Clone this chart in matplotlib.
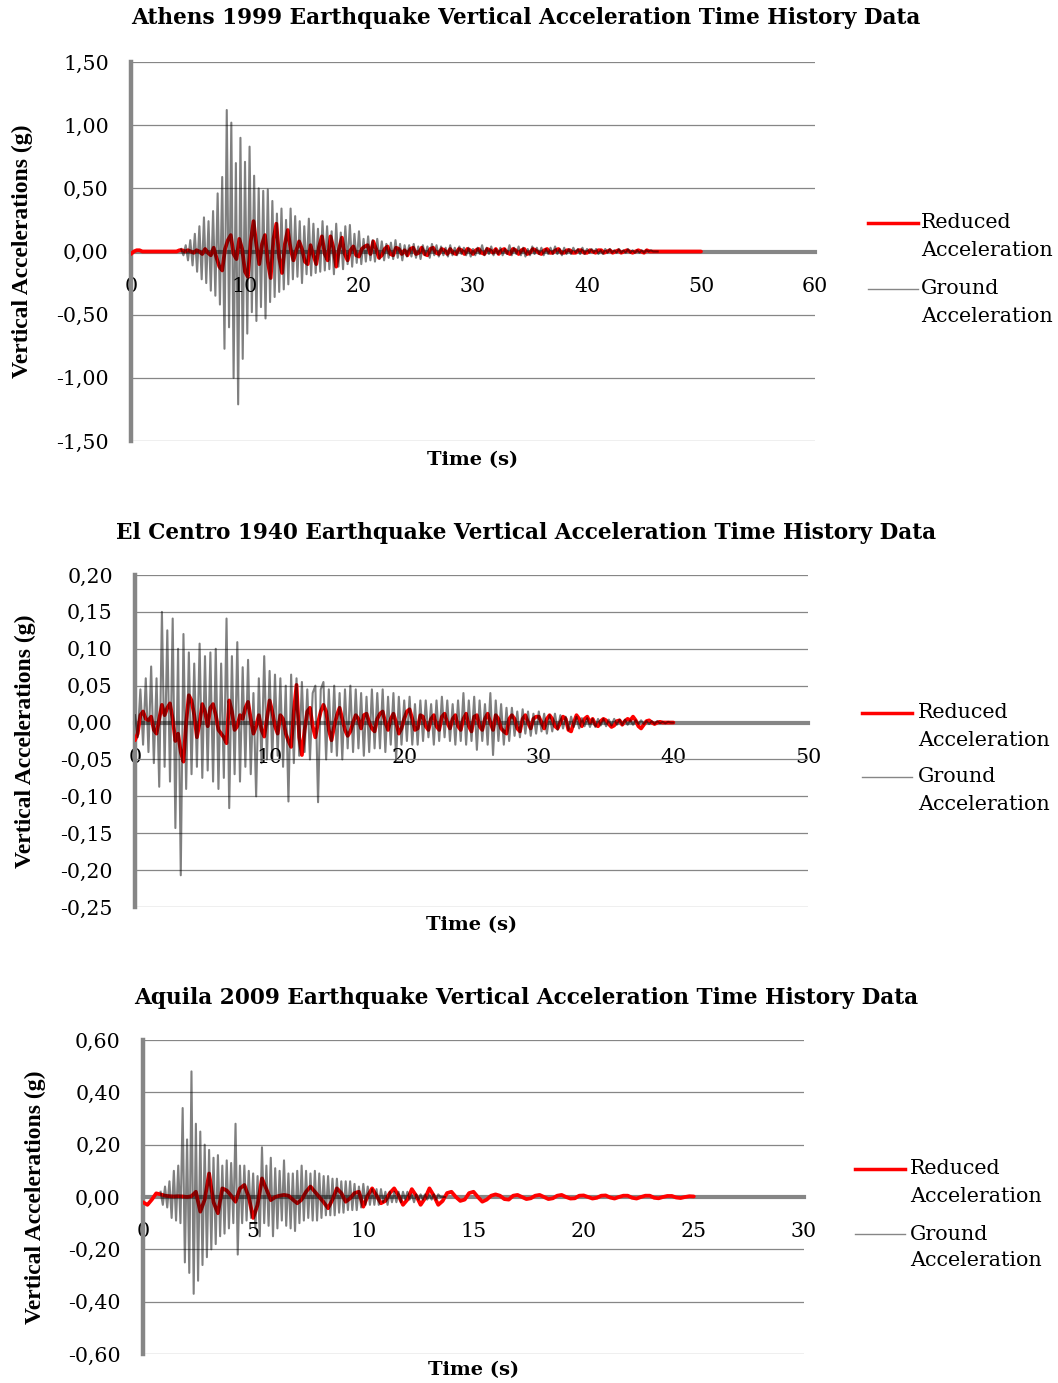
import numpy as np
import matplotlib.pyplot as plt
from matplotlib.lines import Line2D
from matplotlib.ticker import MultipleLocator, FuncFormatter

# --- values ---
# ground acceleration, hundredths / thousandths of g, sampled every dt from t0
athens_t0, athens_dt = 4.4, 0.2
athens_ground_cg = [
    2, -3, 5, -7, 9, -11, 14, -16, 20, -22,
    27, -25, 24, -31, 32, -35, 46, -42, 59, -77,
    112, -60, 102, -100, 70, -121, 90, -85, 71, -65,
    83, -48, 60, -55, 50, -44, 48, -53, 49, -40,
    40, -36, 30, -32, 34, -30, 25, -26, 34, -22,
    28, -20, 24, -25, 20, -18, 26, -19, 22, -17,
    18, -16, 24, -15, 20, -14, 16, -18, 22, -12,
    15, -14, 20, -10, 21, -12, 14, -9, 16, -10,
    10, -8, 12, -7, 9, -8, 10, -6, 8, -7,
    6, -5, 7, -6, 9, -5, 6, -7, 5, -4,
    5, -4, 6, -5, 4, -6, 5, -3, 4, -5,
    6, -3, 5, -4, 4, -3, 3, -4, 5, -3,
    3, -3, 4, -2, 3, -3, 3, -4, 2, -3,
    3, -2, 5, -3, 3, -2, 4, -3, 2, -2,
    3, -3, 2, -2, 5, -3, 3, -2, 4, -3,
    3, -4, 2, -3, 4, -2, 3, -2, 3, -3,
    2, -2, 3, -2, 4, -2, 2, -3, 3, -2,
    2, -2, 3, -1, 2, -2, 3, -2, 2, -1,
    2, -1, 2, -2, 1, -2, 2, -1, 2, -1,
    1, -1, 2, -1, 1, -1, 2, -1, 1, -1,
    1, -1, 1, -1, 1, 0, 1, 0, 0, 0]
athens_red_dt = 0.25
athens_reduced_cg = [
    -2, 0, 1, 1, 0, 0, 0, 0,
    0, 0, 0, 0, 0, 0, 0, 0,
    0, 1, 1, 0, 1, 0, -1, 1,
    0, -2, 2, -1, -3, 3, -5, -12,
    -15, 2, 9, 13, -2, -6, 10, 2,
    -16, -20, 8, 24, 5, -10, 6, 13,
    -8, -21, 10, 22, -5, -17, 6, 17,
    2, -7, 1, 8, 2, -8, -10, 5,
    -3, -10, 4, 12, -2, -7, 12, 3,
    -12, 2, 11, -2, -7, 1, 4, -3,
    -4, 2, 4, 5, -2, 8, 2, -5,
    -3, 2, 4, -2, -3, 3, 2, -2,
    1, -3, 2, 3, -2, -1, 3, -2,
    -3, 2, 3, -1, -2, 2, 1, -2,
    2, -1, -2, 2, 1, -2, 2, 1,
    -2, 1, 2, -1, -2, 2, 1, -1,
    2, -2, 1, 2, -1, -2, 2, 1,
    -2, 1, 2, -2, -1, 2, 1, -1,
    -2, 1, 2, -1, -1, 1, 2, -1,
    -1, 1, 1, -1, -1, 1, 1, -1,
    -1, 1, 0, -1, 1, 1, -1, 0,
    1, -1, 0, 1, -1, 0, 1, 0,
    -1, 0, 1, 0, -1, 1, 0, 0,
    0, 0, 0, 0, 0, 0, 0, 0,
    0, 0, 0, 0, 0, 0, 0, 0,
    0]

elcentro_t0, elcentro_dt = 0.0, 0.2
elcentro_ground_mg = [
    10, -20, 45, -30, 60, -40, 76, -55, 60, -87,
    150, -60, 125, -80, 141, -143, 100, -207, 120, -90,
    95, -70, 80, -60, 107, -75, 90, -65, 95, -80,
    100, -90, 80, -75, 141, -116, 90, -70, 109, -80,
    75, -60, 85, -70, 40, -100, 60, -55, 90, -50,
    70, -50, 65, -45, 60, -60, 50, -107, 65, -55,
    60, -45, 55, -40, 45, -50, 40, 50, -108, 45,
    55, -50, 45, -40, 50, -45, 40, -50, 45, -35,
    50, -40, 45, -35, 40, -45, 35, -40, 45, -35,
    40, -35, 45, -40, 35, -30, 40, -50, 35, -30,
    30, -25, 35, -30, 25, -30, 30, -25, 30, -20,
    25, -30, 30, -25, 35, -20, 30, -25, 25, -30,
    30, -25, 40, -30, 30, -25, 35, -37, 30, -25,
    25, -30, 40, -44, 30, -25, 25, -30, 20, -25,
    20, -18, 15, -20, 18, -15, 15, -18, 12, -15,
    15, -12, 12, -15, 10, -12, 12, -10, 10, -8,
    8, -10, 8, -6, 8, -8, 6, -5, 6, -6,
    5, -6, 5, -4, 5, -5, 4, -4, 5, -3,
    4, -3, 4, -3, 3, -3, 3, -2, 3, -2,
    2, -2, 2, -2, 2, -1, 1, -1, 1, 0,
    0]
elcentro_red_dt = 0.2
elcentro_reduced_mg = [
    -24, -15, 10, 15, 5, 3, 8, -10, -15, 5,
    24, 10, 20, 26, 5, -25, -15, -40, -53, 0,
    37, 30, 10, -20, 0, 25, 15, -5, 20, 25,
    10, -10, -15, -20, -28, 30, 15, -10, -5, 10,
    5, 20, 28, 5, -15, -5, 10, -10, -19, 5,
    30, 15, -5, -15, 10, 5, -15, -25, -33, 15,
    51, -20, -44, -10, 15, 20, -5, -20, 0, 15,
    24, 15, -10, -24, -5, 10, 20, 5, -10, -18,
    -12, 0, 10, 5, -8, 10, 12, 0, -8, -12,
    5, 12, 15, 0, -10, 5, 12, 0, -15, -8,
    5, 15, 18, 5, -10, -8, 10, 8, -5, -10,
    5, 10, -5, -10, 8, 12, 0, -8, 5, 10,
    -5, -10, 5, 12, -5, -12, 8, 10, -5, -10,
    5, 12, 0, -10, 10, 5, -8, -12, -15, 5,
    10, 5, -8, -12, 5, 10, 0, -8, 5, 8,
    8, 0, -8, 5, 10, 5, -5, -8, 0, 8,
    5, -10, -12, 0, 10, 5, -5, 5, 8, 0,
    5, -3, -5, 2, 5, 3, -2, -6, -4, 2,
    3, -3, 2, 5, 3, 8, 3, -5, -8, -3,
    2, 3, 0, -2, 0, 1, 0, 0, 0, 0,
    0]

aquila_t0, aquila_dt = 0.8, 0.1
aquila_ground_cg = [
    2, -3, 4, -4, 6, -8, 10, -9, 12, -10,
    34, -25, 22, -29, 48, -37, 28, -32, 25, -26,
    20, -23, 18, -20, 15, -18, 16, -15, 12, -14,
    14, -12, 13, -10, 28, -22, 12, -10, 12, -9,
    10, -8, 9, -12, 8, -15, 19, -10, 12, -11,
    15, -15, 11, -12, 10, -9, 14, -11, 9, -12,
    9, -13, 10, -10, 12, -9, 10, -8, 9, -9,
    10, -9, 9, -8, 8, -7, 8, -7, 7, -7,
    7, -6, 6, -6, 6, -5, 6, -5, 5, -5,
    4, -4, 5, -3, 4, -3, 3, -3, 3, -3,
    3, -2, 2, -3, 2, -2, 2, -2, 2, -2,
    2, -1, 2, -1, 1, -2, 1, -1, 1, -1,
    1, -1, 1, -1, 1, -1, 1, 0, 0, 0]
aquila_red_dt = 0.2
aquila_reduced_mg = [
    -20, -30, -10, 14, 10, 5, 3, 2, 3, 2,
    0, 3, 20, -56, -10, 90, -20, -62, 33, 25,
    5, -18, 33, 46, 0, -80, -30, 71, 30, -12,
    0, 5, 8, 5, -10, -24, -10, 20, 40, 20,
    0, -20, -43, -10, 33, 15, -18, -5, 15, 20,
    -37, 5, 33, 5, -24, -15, 15, 33, 5, -30,
    -10, 30, 5, -30, -5, 33, 5, -30, -15, 15,
    20, 0, -15, -10, 15, 20, 0, -18, -10, 5,
    10, 5, -8, -10, 5, 8, 0, -8, -5, 5,
    8, 0, -8, -5, 5, 8, 0, -6, -5, 5,
    6, 0, -6, -3, 5, 6, -2, -6, 0, 5,
    5, -3, -6, 0, 5, 5, -3, -5, 0, 4,
    4, -2, -4, 0, 3, 2]

titles = ["Athens 1999 Earthquake Vertical Acceleration Time History Data",
          "El Centro 1940 Earthquake Vertical Acceleration Time History Data",
          "Aquila 2009 Earthquake Vertical Acceleration Time History Data"]

GRAY = '#868686'
W, H = 1058, 1383

plt.rcParams['font.family'] = 'DejaVu Serif'
fig = plt.figure(figsize=(W / 100, H / 100), dpi=100)


def comma(v, pos):
    return f"{v:.2f}".replace('.', ',')


def panel(box, ground, g_t0, g_dt, reduced, r_dt, xmax, xstep, ylim, ystep,
          title, title_y, xlab_y, ylab_x, leg):
    l, t, r, b = box
    ax = fig.add_axes([l / W, 1 - b / H, (r - l) / W, (b - t) / H])
    tg = g_t0 + g_dt * np.arange(len(ground))
    tr = r_dt * np.arange(len(reduced))
    ax.plot(tr, reduced, color='red', lw=2.7, zorder=3, solid_capstyle='round')
    ax.plot(tg, ground, color='black', alpha=0.5, lw=1.5, zorder=4)
    ax.set_xlim(0, xmax)
    ax.set_ylim(*ylim)
    ax.xaxis.set_major_locator(MultipleLocator(xstep))
    ax.yaxis.set_major_locator(MultipleLocator(ystep))
    ax.yaxis.set_major_formatter(FuncFormatter(comma))
    for s in ('top', 'right'):
        ax.spines[s].set_visible(False)
    ax.spines['bottom'].set_position(('data', 0))
    ax.spines['bottom'].set_linewidth(3)
    ax.spines['bottom'].set_color(GRAY)
    ax.spines['bottom'].set_zorder(2)
    ax.spines['left'].set_linewidth(3.2)
    ax.spines['left'].set_color(GRAY)
    ax.grid(axis='y', color=GRAY, lw=0.9)
    ax.set_axisbelow(True)
    ax.tick_params(length=0, labelsize=14.8)
    ax.tick_params(axis='x', pad=18)
    ax.tick_params(axis='y', pad=16)
    ax.set_ylabel("Vertical Accelerations (g)", family='Liberation Serif',
                  fontweight='bold', fontsize=17, va='center')
    ax.yaxis.set_label_coords((ylab_x - l) / (r - l), 0.5)
    ax.text(0.5, -(xlab_y - b) / (b - t), "Time (s)", transform=ax.transAxes,
            ha='center', va='center', fontsize=14, fontweight='bold')
    fig.text(0.497, 1 - title_y / H, title, ha='center', va='center',
             fontsize=15.6, fontweight='bold')
    lx0, lx1, tx, y1, y2 = leg
    for yy, col, lw, words in ((y1, 'red', 2.5, ("Reduced", "Acceleration")),
                               (y2, GRAY, 1.0, ("Ground", "Acceleration"))):
        fig.add_artist(Line2D([lx0 / W, lx1 / W], [1 - yy / H] * 2,
                              transform=fig.transFigure, color=col, lw=lw))
        fig.text(tx / W, 1 - yy / H, words[0], ha='left', va='center', fontsize=14.9)
        fig.text(tx / W, 1 - (yy + 27) / H, words[1], ha='left', va='center', fontsize=14.9)
    return ax


panel((131, 62, 815, 441), np.array(athens_ground_cg) / 100, athens_t0, athens_dt,
      np.array(athens_reduced_cg) / 100, athens_red_dt, 60, 10, (-1.5, 1.5), 0.5,
      titles[0], 18, 460, 22, (868, 918, 921, 223, 289))
panel((135, 575, 808, 907), np.array(elcentro_ground_mg) / 1000, elcentro_t0, elcentro_dt,
      np.array(elcentro_reduced_mg) / 1000, elcentro_red_dt, 50, 10, (-0.25, 0.2), 0.05,
      titles[1], 533, 925, 25, (862, 912, 918, 713, 777))
panel((143, 1040, 804, 1354), np.array(aquila_ground_cg) / 100, aquila_t0, aquila_dt,
      np.array(aquila_reduced_mg) / 1000, aquila_red_dt, 30, 5, (-0.6, 0.6), 0.2,
      titles[2], 998, 1370, 35, (855, 905, 910, 1169, 1234))

fig.savefig("out.png", dpi=100)
